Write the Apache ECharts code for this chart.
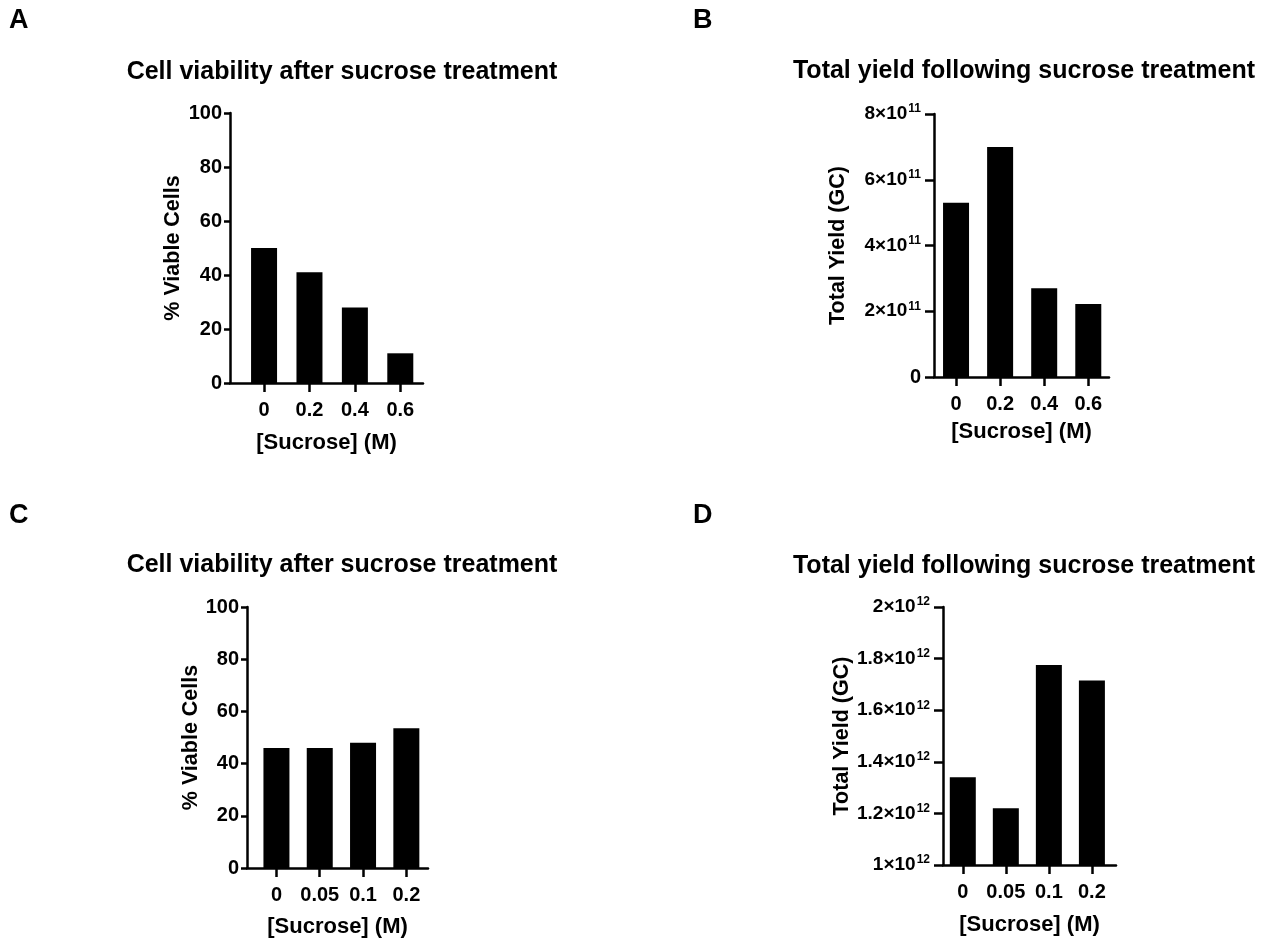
<!DOCTYPE html>
<html><head><meta charset="utf-8">
<script src="https://cdn.jsdelivr.net/npm/echarts@6/dist/echarts.min.js"></script>
<style>html,body{margin:0;padding:0;background:#fff}#c{width:1265px;height:942px}</style>
</head><body><div id="c"></div><script>
// ---- data ----
const sucroseA = ['0', '0.2', '0.4', '0.6'];
const viabilityA = [50, 41, 28, 11];
const sucroseB = ['0', '0.2', '0.4', '0.6'];
const yieldB = [5.3e11, 7.0e11, 2.7e11, 2.22e11];
const sucroseC = ['0', '0.05', '0.1', '0.2'];
const viabilityC = [46, 46, 48, 53.5];
const sucroseD = ['0', '0.05', '0.1', '0.2'];
const yieldD = [1.34e12, 1.22e12, 1.775e12, 1.715e12];
const panelLetters = ['A', 'B', 'C', 'D'];
const titleViability = 'Cell viability after sucrose treatment';
const titleYield = 'Total yield following sucrose treatment';
const yNameViability = '% Viable Cells';
const yNameYield = 'Total Yield (GC)';
const xName = '[Sucrose] (M)';

const FF = '"Liberation Sans", Arial, Helvetica, sans-serif';
const BLACK = '#000';
const LW = 2.5;

function sciLabel(v) {
  if (v === 0) return '0';
  const e = Math.floor(Math.log10(Math.abs(v)) + 1e-9);
  let m = Math.round(v / Math.pow(10, e) * 10) / 10;
  return '{m|' + m + '×10}{e|' + e + '}';
}

function xAxisCfg(gi, cats, min, max, gap) {
  const idx = cats.map((_, i) => i);
  return {
    type: 'value', gridIndex: gi, min: min, max: max,
    axisLine: { show: true, onZero: false, lineStyle: { color: BLACK, width: LW } },
    axisTick: { show: true, customValues: idx, length: 9, lineStyle: { color: BLACK, width: LW } },
    axisLabel: { show: true, customValues: idx, formatter: v => cats[Math.round(v)], margin: 17,
      fontSize: 20, fontWeight: 'bold', color: BLACK, fontFamily: FF },
    splitLine: { show: false },
    name: xName, nameLocation: 'middle', nameGap: gap,
    nameTextStyle: { fontSize: 22, fontWeight: 'bold', color: BLACK, fontFamily: FF }
  };
}

function yAxisCfg(gi, min, max, interval, name, gap, sci) {
  const lab = { fontSize: 20, fontWeight: 'bold', color: BLACK, fontFamily: FF, margin: sci ? 13 : 8 };
  if (sci) {
    lab.formatter = sciLabel;
    lab.rich = {
      m: { fontSize: 19, fontWeight: 'bold', color: BLACK, fontFamily: FF, lineHeight: 22 },
      e: { fontSize: 12, fontWeight: 'bold', color: BLACK, fontFamily: FF, lineHeight: 12, verticalAlign: 'top', padding: [0, 0, 0, 1] }
    };
  }
  return {
    type: 'value', gridIndex: gi, min: min, max: max, interval: interval,
    axisLine: { show: true, onZero: false, lineStyle: { color: BLACK, width: LW } },
    axisTick: { show: true, length: sci ? 9 : 6, lineStyle: { color: BLACK, width: LW } },
    axisLabel: lab,
    splitLine: { show: false },
    name: name, nameLocation: 'middle', nameGap: gap,
    nameTextStyle: { fontSize: 21.5, fontWeight: 'bold', color: BLACK, fontFamily: FF }
  };
}

function barSeries(gi, vals) {
  return {
    type: 'bar', xAxisIndex: gi, yAxisIndex: gi,
    data: vals.map((v, i) => [i, v]),
    barWidth: 26, itemStyle: { color: BLACK }, silent: true, animation: false
  };
}

function txt(x, y, s, size, align) {
  return { type: 'text', x: x, y: y, silent: true,
    style: { text: s, fontSize: size, fontWeight: 'bold', fontFamily: FF, fill: BLACK,
      align: align, verticalAlign: 'middle' } };
}

const chart = echarts.init(document.getElementById('c'), null, { renderer: 'canvas' });
chart.setOption({
  backgroundColor: '#fff',
  animation: false,
  grid: [
    { left: 230, top: 113, width: 193, height: 270 },
    { left: 934, top: 114, width: 175, height: 263 },
    { left: 247, top: 607, width: 181, height: 261 },
    { left: 943, top: 607, width: 173, height: 258 }
  ],
  xAxis: [
    xAxisCfg(0, sucroseA, -0.75, 3.5, 49),
    xAxisCfg(1, sucroseB, -0.5, 3.47, 44),
    xAxisCfg(2, sucroseC, -0.68, 3.5, 48),
    xAxisCfg(3, sucroseD, -0.46, 3.56, 49)
  ],
  yAxis: [
    yAxisCfg(0, 0, 100, 20, yNameViability, 46, false),
    yAxisCfg(1, 0, 8e11, 2e11, yNameYield, 85, true),
    yAxisCfg(2, 0, 100, 20, yNameViability, 43, false),
    yAxisCfg(3, 1e12, 2e12, 2e11, yNameYield, 89, true)
  ],
  series: [
    barSeries(0, viabilityA),
    barSeries(1, yieldB),
    barSeries(2, viabilityC),
    barSeries(3, yieldD)
  ],
  graphic: [
    txt(9, 21, panelLetters[0], 27, 'left'),
    txt(693, 21, panelLetters[1], 27, 'left'),
    txt(9, 516, panelLetters[2], 27, 'left'),
    txt(693, 516, panelLetters[3], 27, 'left'),
    txt(342, 72, titleViability, 25, 'center'),
    txt(1024, 71, titleYield, 25, 'center'),
    txt(342, 565, titleViability, 25, 'center'),
    txt(1024, 566, titleYield, 25, 'center')
  ]
});
</script></body></html>
